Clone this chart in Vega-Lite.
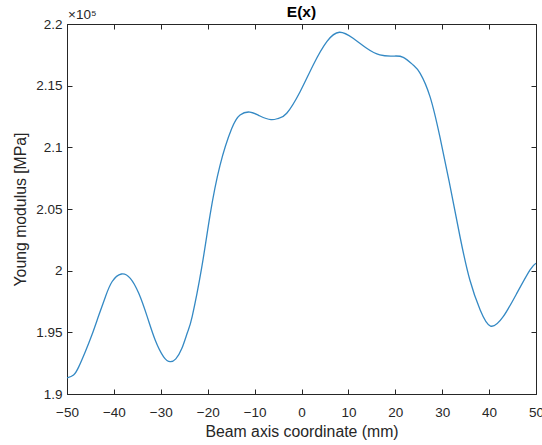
{
  "$schema": "https://vega.github.io/schema/vega-lite/v6.json",
  "width": 469,
  "height": 370,
  "autosize": "none",
  "padding": {"left": 67, "top": 24, "right": 6, "bottom": 51},
  "background": "white",
  "config": {
    "view": {"stroke": "#262626", "strokeWidth": 1},
    "font": "Liberation Sans",
    "axis": {
      "domainColor": "#262626",
      "tickColor": "#262626",
      "labelColor": "#262626",
      "titleColor": "#262626",
      "labelFont": "Liberation Sans",
      "titleFont": "Liberation Sans",
      "labelFontSize": 13.5,
      "titleFontSize": 15.8,
      "titleFontWeight": "normal",
      "grid": false,
      "tickSize": -5
    },
    "title": {"font": "Liberation Sans", "fontSize": 15.5, "fontWeight": "bold", "color": "#000000"}
  },
  "title": {"text": "E(x)", "anchor": "middle", "offset": -12},
  "data": {
    "values": [
      {"x": -50, "E": 191300}, {"x": -48.6, "E": 191540}, {"x": -47.5, "E": 192200},
      {"x": -46.1, "E": 193430}, {"x": -44.7, "E": 194780}, {"x": -43.2, "E": 196400},
      {"x": -41.8, "E": 197890}, {"x": -40.4, "E": 199100}, {"x": -38.4, "E": 199730},
      {"x": -36.5, "E": 199380}, {"x": -34.7, "E": 198160}, {"x": -32.9, "E": 196270},
      {"x": -31.2, "E": 194380}, {"x": -29.4, "E": 193020}, {"x": -28, "E": 192620},
      {"x": -26.8, "E": 192850}, {"x": -25.5, "E": 193700}, {"x": -24.3, "E": 195000},
      {"x": -23.3, "E": 196300}, {"x": -21.3, "E": 200200},
      {"x": -19.5, "E": 204500}, {"x": -17.4, "E": 208500}, {"x": -14.9, "E": 211500},
      {"x": -13.1, "E": 212620}, {"x": -11, "E": 212860}, {"x": -8.85, "E": 212540},
      {"x": -6.5, "E": 212250}, {"x": -4.9, "E": 212350}, {"x": -3.15, "E": 212760},
      {"x": -0.3, "E": 214510}, {"x": 2.5, "E": 216680}, {"x": 5.4, "E": 218570},
      {"x": 8.1, "E": 219330}, {"x": 11, "E": 218840}, {"x": 13.9, "E": 218030},
      {"x": 16.7, "E": 217490}, {"x": 19.6, "E": 217400}, {"x": 21.7, "E": 217300},
      {"x": 23.8, "E": 216680}, {"x": 25.3, "E": 216000}, {"x": 27.4, "E": 214110},
      {"x": 29.5, "E": 210860}, {"x": 31.7, "E": 206810}, {"x": 33.8, "E": 202750},
      {"x": 35.9, "E": 199240}, {"x": 38.1, "E": 196810}, {"x": 40.3, "E": 195510},
      {"x": 43, "E": 196270}, {"x": 45.9, "E": 198160}, {"x": 48.7, "E": 200050},
      {"x": 50, "E": 200600}
    ]
  },
  "layer": [
    {
      "mark": {"type": "line", "color": "#3489c4", "strokeWidth": 1.3, "interpolate": "natural", "clip": true},
      "encoding": {
        "x": {"field": "x", "type": "quantitative", "scale": {"domain": [-50, 50], "nice": false, "zero": false},
          "axis": {"orient": "bottom", "values": [-50, -40, -30, -20, -10, 0, 10, 20, 30, 40, 50], "title": "Beam axis coordinate (mm)", "labelPadding": 16, "titlePadding": 6, "labelFlush": false}},
        "y": {"field": "E", "type": "quantitative", "scale": {"domain": [190000, 220000], "nice": false, "zero": false},
          "axis": {"orient": "left", "values": [190000, 195000, 200000, 205000, 210000, 215000, 220000], "labelExpr": "format(datum.value/100000, '~g')", "title": "Young modulus [MPa]", "labelPadding": 10, "titlePadding": 7, "labelFlush": false}}
      }
    },
    {
      "mark": {"type": "line", "opacity": 0},
      "encoding": {
        "x": {"field": "x", "type": "quantitative",
          "axis": {"orient": "top", "values": [-50, -40, -30, -20, -10, 0, 10, 20, 30, 40, 50], "labels": false, "title": null, "domain": false}},
        "y": {"field": "E", "type": "quantitative",
          "axis": {"orient": "right", "values": [190000, 195000, 200000, 205000, 210000, 215000, 220000], "labels": false, "title": null, "domain": false}}
      }
    },
    {
      "data": {"values": [{"lab": "×10⁵"}]},
      "mark": {"type": "text", "align": "left", "baseline": "alphabetic", "dx": 1, "dy": -5, "fontSize": 13.5, "color": "#262626", "font": "Liberation Sans"},
      "encoding": {
        "x": {"datum": -50, "type": "quantitative", "axis": null},
        "y": {"datum": 220000, "type": "quantitative", "axis": null},
        "text": {"field": "lab"}
      }
    }
  ],
  "resolve": {"axis": {"x": "independent", "y": "independent"}}
}
